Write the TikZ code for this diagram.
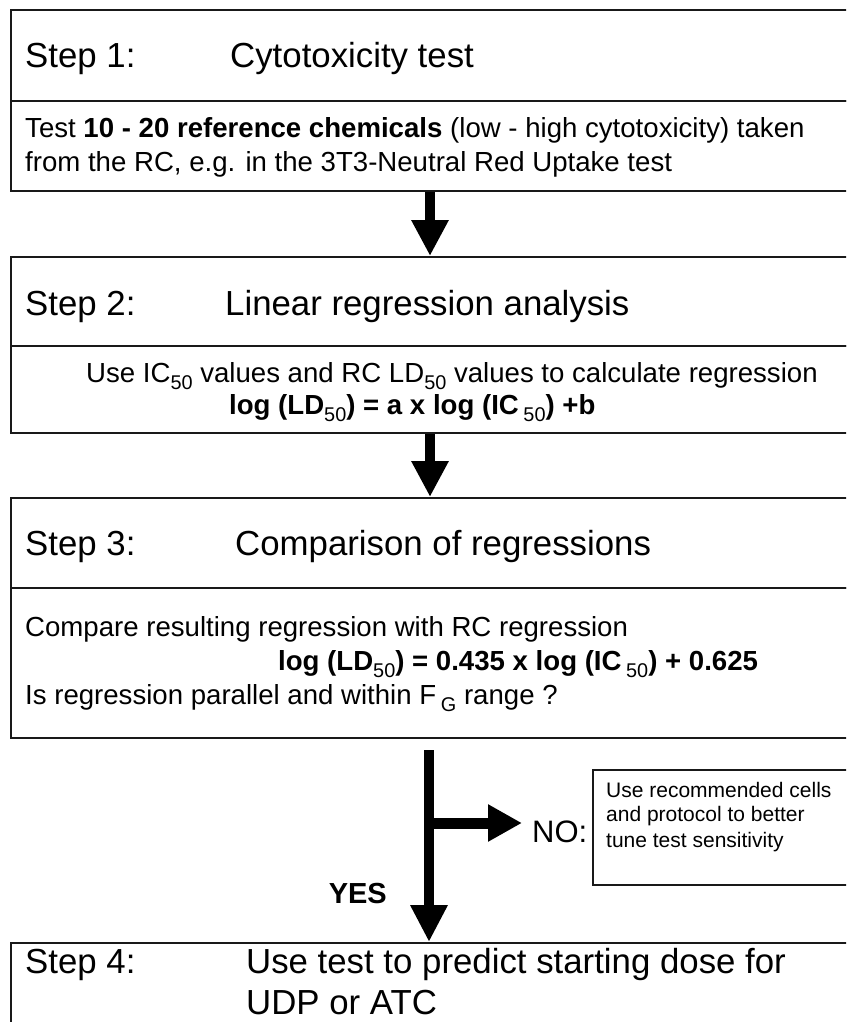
\documentclass[tikz,border=0pt]{standalone}
\usepackage{fontspec}
\setmainfont{Liberation Sans}
\usetikzlibrary{arrows.meta}
\newcommand\lsub[1]{\raisebox{-0.26em}{\scalebox{0.72}{\mdseries #1}}}
\begin{document}
\begin{tikzpicture}[x=1pt,y=-1pt,
  box/.style={draw=black!90,line width=1.8pt,inner sep=0pt,anchor=north west,minimum width=880pt},
  hd/.style={font=\fontsize{34.8}{40}\selectfont,anchor=base west,inner sep=0pt},
  bd/.style={font=\fontsize{27.6}{32}\selectfont,anchor=base west,inner sep=0pt},
  sm/.style={font=\fontsize{21}{25}\selectfont,anchor=base west,inner sep=0pt},
  bigarrow/.style={line width=10pt,-{Triangle[width=35pt,length=36pt]}},
]
\useasboundingbox (0,0) rectangle (846,1022);
\clip (0,0) rectangle (846,1022);

% Step 1
\node[box,minimum height=91pt] (b1h) at (10,9) {};
\node[box,minimum height=90pt] (b1b) at (10,100) {};
\node[hd] (s1a) at (25,68) {Step 1:};
\node[hd] (s1b) at (230,68) {Cytotoxicity test};
\node[bd] (t1a) at (25,137) {Test \textbf{10 - 20 reference chemicals} (low - high cytotoxicity) taken};
\node[bd] (t1b) at (25,171) {from the RC, e.g. in the 3T3-Neutral Red Uptake test};

% Step 2
\node[box,minimum height=89pt] (b2h) at (10,256) {};
\node[box,minimum height=87pt] (b2b) at (10,345) {};
\node[hd] (s2a) at (25,315) {Step 2:};
\node[hd] (s2b) at (225,315) {Linear regression analysis};
\node[bd] (t2a) at (86,382) {Use IC\lsub{50} values and RC LD\lsub{50} values to calculate regression};
\node[bd,font=\fontsize{27.6}{32}\selectfont\bfseries] (t2b) at (229,414) {log (LD\lsub{50}) = a x log (IC\,\lsub{50}) +b};

% Step 3
\node[box,minimum height=90pt] (b3h) at (10,497) {};
\node[box,minimum height=150pt] (b3b) at (10,587) {};
\node[hd] (s3a) at (25,555) {Step 3:};
\node[hd] (s3b) at (235,555) {Comparison of regressions};
\node[bd] (t3a) at (25,636) {Compare resulting regression with RC regression};
\node[bd,font=\fontsize{27.6}{32}\selectfont\bfseries] (t3b) at (278,670) {log (LD\lsub{50}) = 0.435 x log (IC\,\lsub{50}) + 0.625};
\node[bd] (t3c) at (25,704) {Is regression parallel and within F\,\lsub{G} range ?};

% Step 4
\node[box,minimum height=120pt] (b4) at (10,942) {};
\node[hd] (s4a) at (25,973) {Step 4:};
\node[hd] (s4b) at (246,973) {Use test to predict starting dose for};
\node[hd] (s4c) at (246,1014) {UDP or ATC};

% NO box
\node[box,minimum width=300pt,minimum height=115pt] (nobox) at (592,769) {};
\node[sm] (n1) at (606,797) {Use recommended cells};
\node[sm] (n2) at (606,821) {and protocol to better};
\node[sm] (n3) at (606,847) {tune test sensitivity};

% connectors
\coordinate (ax) at (430,0);
\draw[bigarrow] (b1b.south -| ax) -- (b2h.north -| ax);
\draw[bigarrow] (b2b.south -| ax) -- (b3h.north -| ax);

\coordinate (vtop) at (429,750);
\coordinate (split) at (424,823);
\draw[line width=10pt,-{Triangle[width=35pt,length=37pt]}] (vtop) -- (vtop |- b4.north);
\node[font=\fontsize{31}{36}\selectfont,anchor=base west,inner sep=0pt] (no) at (532,842) {NO:};
\draw[line width=11pt,-{Triangle[width=35pt,length=34pt]}] (split) -- ([xshift=-10pt]no.west |- split);
\node[font=\fontsize{29}{34}\selectfont\bfseries,anchor=base east,inner sep=0pt] (yes) at (387,903) {YES};
\end{tikzpicture}
\end{document}
